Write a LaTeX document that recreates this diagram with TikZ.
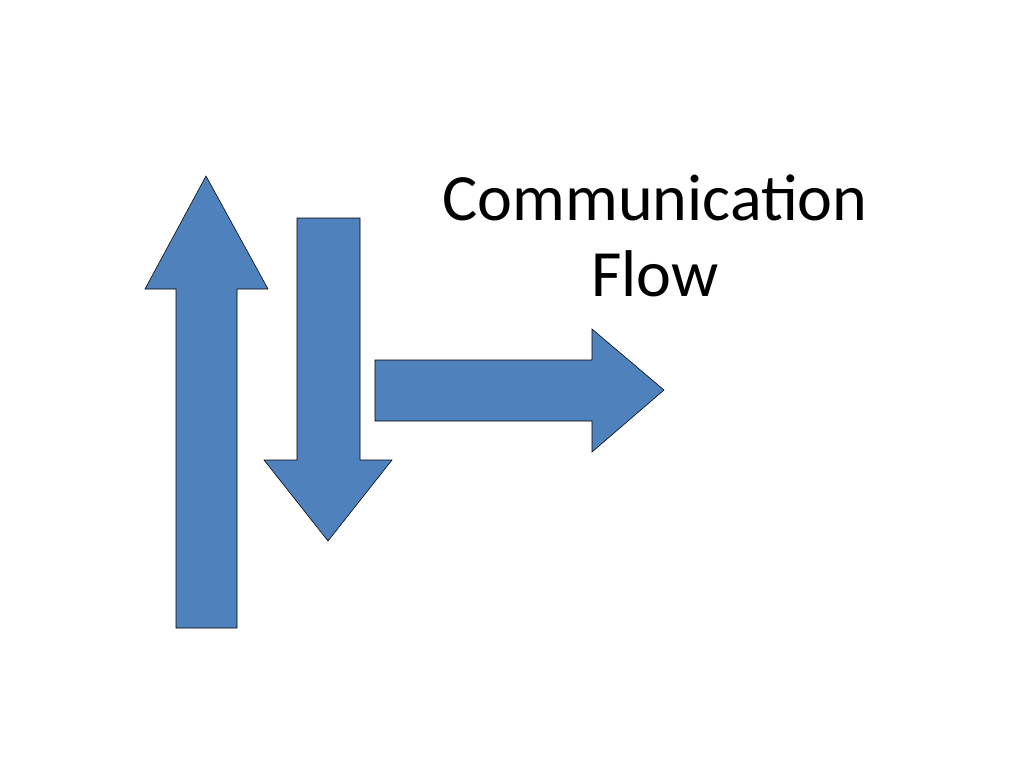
\documentclass[tikz,border=0pt]{standalone}
\usepackage{fontspec}
\setmainfont{Carlito}
\definecolor{arrowblue}{HTML}{4F81BD}
\begin{document}
\begin{tikzpicture}[x=0.025cm, y=-0.025cm,
  blockarrow/.style={draw=black, thin, fill=arrowblue, line join=miter}]
\useasboundingbox (0,0) rectangle (1024,768);
% up arrow
\draw[blockarrow] (176,628) -- (176,289) -- (145,289) -- (206,176) -- (268,289) -- (237,289) -- (237,628) -- cycle;
% down arrow
\draw[blockarrow] (297,218) -- (360,218) -- (360,460) -- (392,460) -- (328,541) -- (264,460) -- (297,460) -- cycle;
% right arrow
\draw[blockarrow] (375,360) -- (592,360) -- (592,329) -- (664,390) -- (592,452) -- (592,421) -- (375,421) -- cycle;
\node[align=center, font=\fontsize{47}{54}\selectfont] (title) at (655,236) {Communication\\Flow};
\end{tikzpicture}
\end{document}
